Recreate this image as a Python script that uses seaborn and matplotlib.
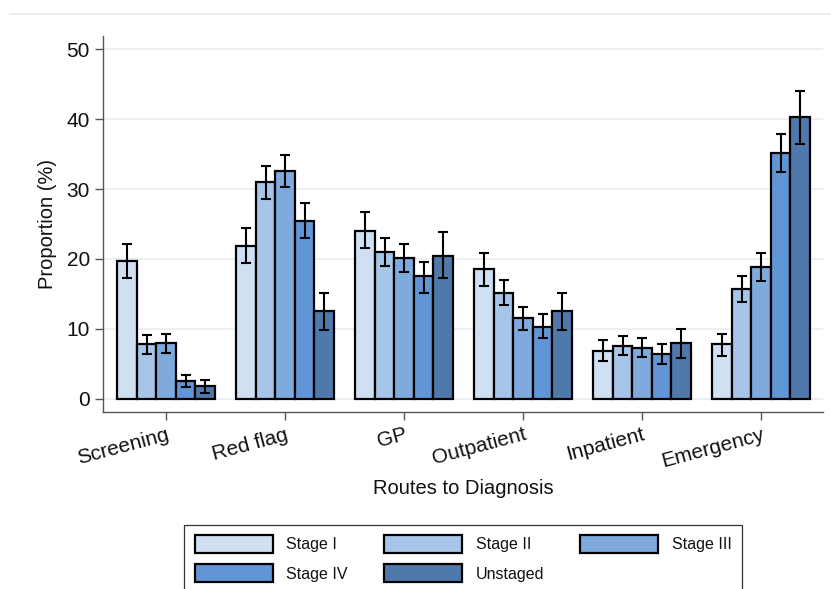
import matplotlib
matplotlib.use("Agg")
import matplotlib.pyplot as plt
from matplotlib.lines import Line2D
import numpy as np
import pandas as pd
import seaborn as sns

# ---- data ----
routes = ["Screening", "Red flag", "GP", "Outpatient", "Inpatient", "Emergency"]
stages = ["Stage I", "Stage II", "Stage III", "Stage IV", "Unstaged"]

stage1 = [19.7, 21.9, 24.0, 18.5, 6.9, 7.8]
stage1_lo = [17.3, 19.4, 21.5, 16.1, 5.4, 6.2]
stage1_hi = [22.1, 24.4, 26.7, 20.8, 8.4, 9.3]

stage2 = [7.8, 31.05, 21.0, 15.2, 7.6, 15.7]
stage2_lo = [6.4, 28.6, 19.0, 13.4, 6.3, 13.8]
stage2_hi = [9.1, 33.3, 23.0, 17.0, 9.0, 17.5]

stage3 = [7.95, 32.6, 20.1, 11.5, 7.3, 18.8]
stage3_lo = [6.6, 30.3, 18.2, 9.9, 6.0, 16.9]
stage3_hi = [9.3, 34.9, 22.1, 13.1, 8.7, 20.8]

stage4 = [2.6, 25.5, 17.5, 10.3, 6.4, 35.2]
stage4_lo = [1.7, 23.0, 15.2, 8.7, 5.0, 32.4]
stage4_hi = [3.4, 27.95, 19.6, 12.1, 7.8, 37.9]

unstaged = [1.9, 12.6, 20.4, 12.6, 7.95, 40.3]
unstaged_lo = [0.8, 9.9, 17.3, 9.9, 5.9, 36.4]
unstaged_hi = [2.7, 15.1, 23.8, 15.1, 10.0, 44.0]

yticks = [0, 10, 20, 30, 40, 50]

values = [stage1, stage2, stage3, stage4, unstaged]
lows = [stage1_lo, stage2_lo, stage3_lo, stage4_lo, unstaged_lo]
highs = [stage1_hi, stage2_hi, stage3_hi, stage4_hi, unstaged_hi]

colors = ["#cfe0f3", "#a6c5e9", "#7faadd", "#6095d6", "#5079ab"]

rows = []
for s, vals in zip(stages, values):
    for r, v in zip(routes, vals):
        rows.append({"route": r, "stage": s, "value": v})
df = pd.DataFrame(rows)

# ---- figure ----
sns.set_style("white")
plt.rcParams["font.family"] = ["Liberation Sans", "DejaVu Sans"]

fig = plt.figure(figsize=(8.31, 5.89), dpi=100)
W, H = 831, 589
ax = fig.add_axes([103 / W, 1 - 412 / H, 720 / W, 376 / H])

sns.barplot(data=df, x="route", y="value", hue="stage", order=routes,
            hue_order=stages, palette=colors, saturation=1, width=0.82,
            gap=0, edgecolor="black", linewidth=1.6, errorbar=None, ax=ax)

for cont, lo, hi, vals in zip(ax.containers, lows, highs, values):
    xs = [b.get_x() + b.get_width() / 2 for b in cont]
    v = np.array(vals)
    yerr = [v - np.array(lo), np.array(hi) - v]
    ax.errorbar(xs, v, yerr=yerr, fmt="none", ecolor="black",
                elinewidth=1.5, capsize=3.6, capthick=1.5, zorder=5)

ax.set_xlim(-0.53, 5.52)
ax.set_ylim(-1.86, 51.86)
ax.set_yticks(yticks)
ax.set_axisbelow(True)
ax.yaxis.grid(True, color="#e6eef1", linewidth=1.2)
ax.xaxis.grid(False)

for side in ["top", "right"]:
    ax.spines[side].set_visible(False)
for side in ["left", "bottom"]:
    ax.spines[side].set_color("#555555")
    ax.spines[side].set_linewidth(1.0)

ax.tick_params(axis="both", which="both", direction="out", length=5.8,
               width=1.0, color="#555555", labelsize=15, pad=3.6,
               left=True, bottom=True, labelcolor="#111111")
for lab in ax.get_xticklabels():
    lab.set_rotation(15)
    lab.set_rotation_mode("anchor")
    lab.set_ha("right")
    lab.set_va("top")

ax.set_xlabel("Routes to Diagnosis", fontsize=14.5, color="#111111")
ax.set_ylabel("Proportion (%)", fontsize=14.5, color="#111111")
ax.xaxis.set_label_coords(0.5, -0.178)
ax.yaxis.set_label_coords(-0.064, 0.5)

handles, labels = ax.get_legend_handles_labels()
if ax.get_legend() is not None:
    ax.get_legend().remove()
for h in handles:
    h.set_edgecolor("black")
    h.set_linewidth(1.6)

# row-major order for a 3-column legend (matplotlib fills column-wise)
order = [0, 3, 1, 4, 2]
handles = [handles[i] for i in order]
labels = [labels[i] for i in order]

fs = 11.5
px = fs * 100 / 72
leg = fig.legend(handles, labels, ncol=3, loc="upper left",
                 bbox_to_anchor=(184 / W, 1 - 524.5 / H), borderaxespad=0,
                 frameon=True, fancybox=False, edgecolor="black",
                 fontsize=fs, handlelength=78 / px, handleheight=22 / px,
                 handletextpad=14 / px, columnspacing=35.7 / px,
                 labelspacing=11 / px, borderpad=10.5 / px)
leg.get_frame().set_linewidth(0.9)
for t in leg.get_texts():
    t.set_color("#111111")

fig.add_artist(Line2D([10 / W, 1.0], [1 - 14 / H, 1 - 14 / H],
                      color="#e3ecee", linewidth=1.2))

fig.savefig("out.png", dpi=100)
